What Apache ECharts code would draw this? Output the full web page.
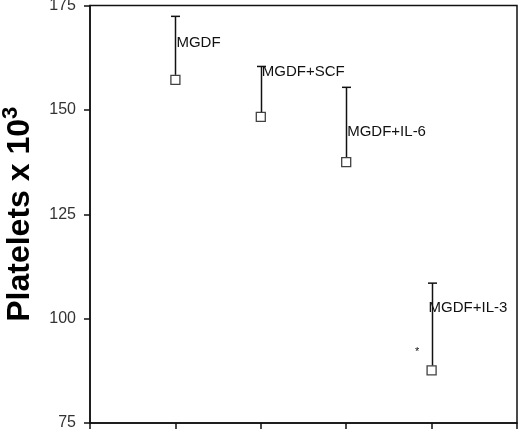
<!DOCTYPE html>
<html><head><meta charset="utf-8">
<script src="https://cdn.jsdelivr.net/npm/echarts@6/dist/echarts.min.js"></script>
<style>html,body{margin:0;padding:0;background:#fff}#c{width:520px;height:431px}</style>
</head><body><div id="c"></div>
<script>
var categories = ['MGDF', 'MGDF+SCF', 'MGDF+IL-6', 'MGDF+IL-3'];
var xPositions = [1, 2, 3, 4];
var means = [157.2, 148.3, 137.5, 87.6];
var upperErrors = [172.4, 160.4, 155.4, 108.5];
var labelValues = [166, 159, 144.7, 102.6];
var yTicks = [75, 100, 125, 150, 175];
var asteriskPoint = [3.83, 92.7];

var chart = echarts.init(document.getElementById('c'), null, {renderer: 'canvas'});
var font = '"Liberation Sans", Arial, sans-serif';

var pts = xPositions.map(function (x, i) { return [x, means[i]]; });
var errs = xPositions.map(function (x, i) { return [x, means[i], upperErrors[i]]; });
var labs = xPositions.map(function (x, i) { return [x, labelValues[i], categories[i]]; });

chart.setOption({
  animation: false,
  grid: {left: 90, right: 3, top: 5.5, bottom: 8, containLabel: false, outerBoundsMode: 'none',
         show: true, borderColor: '#111', borderWidth: 1.5, backgroundColor: 'transparent'},
  xAxis: {
    type: 'value', min: 0, max: 5, interval: 1,
    axisLine: {show: true, lineStyle: {color: '#111', width: 1.5}},
    axisTick: {show: true, inside: false, length: 6, lineStyle: {color: '#111', width: 1.5}},
    axisLabel: {show: false}, splitLine: {show: false}
  },
  yAxis: {
    type: 'value', min: yTicks[0], max: yTicks[yTicks.length - 1], interval: 25,
    axisLine: {show: true, lineStyle: {color: '#111', width: 1.5}},
    axisTick: {show: true, length: 6, lineStyle: {color: '#111', width: 1.5}},
    axisLabel: {color: '#333', fontSize: 16, fontFamily: font, margin: 14},
    splitLine: {show: false},
    name: '{m|Platelets x 10}{s|3}',
    nameLocation: 'middle', nameRotate: 90, nameGap: 54,
    nameTextStyle: {
      rich: {
        m: {fontSize: 32, fontWeight: 'bold', fontFamily: font, color: '#000', verticalAlign: 'bottom', lineHeight: 36},
        s: {fontSize: 22, fontWeight: 'bold', fontFamily: font, color: '#000', verticalAlign: 'top', lineHeight: 36, padding: [0, 0, 10, 0]}
      }
    }
  },
  series: [
    {
      type: 'custom',
      data: errs,
      z: 2,
      renderItem: function (params, api) {
        var x = api.value(0);
        var lo = api.coord([x, api.value(1)]);
        var hi = api.coord([x, api.value(2)]);
        var cx = Math.round(lo[0]) + 0.5;
        return {
          type: 'group',
          children: [
            {type: 'line', shape: {x1: cx, y1: lo[1] - 5, x2: cx, y2: hi[1]}, style: {stroke: '#111', lineWidth: 1.5}},
            {type: 'line', shape: {x1: cx - 4.5, y1: hi[1], x2: cx + 4.5, y2: hi[1]}, style: {stroke: '#111', lineWidth: 1.5}}
          ]
        };
      }
    },
    {
      type: 'scatter',
      data: pts,
      symbol: 'rect', symbolSize: 9,
      itemStyle: {color: '#fff', borderColor: '#111', borderWidth: 1.3},
      z: 3
    },
    {
      type: 'custom',
      data: labs,
      z: 4,
      renderItem: function (params, api) {
        var p = api.coord([api.value(0), api.value(1)]);
        var dx = params.dataIndex === 3 ? -3 : 1;
        return {
          type: 'text',
          style: {text: categories[params.dataIndex], x: p[0] + dx, y: p[1], verticalAlign: 'middle', align: 'left',
                  font: '15px ' + font, fill: '#111'}
        };
      }
    },
    {
      type: 'custom',
      data: [asteriskPoint],
      z: 4,
      renderItem: function (params, api) {
        var p = api.coord([api.value(0), api.value(1)]);
        return {type: 'text', style: {text: '*', x: p[0], y: p[1] + 3, align: 'center', verticalAlign: 'middle', font: '11px ' + font, fill: '#111'}};
      }
    }
  ]
});
</script></body></html>
